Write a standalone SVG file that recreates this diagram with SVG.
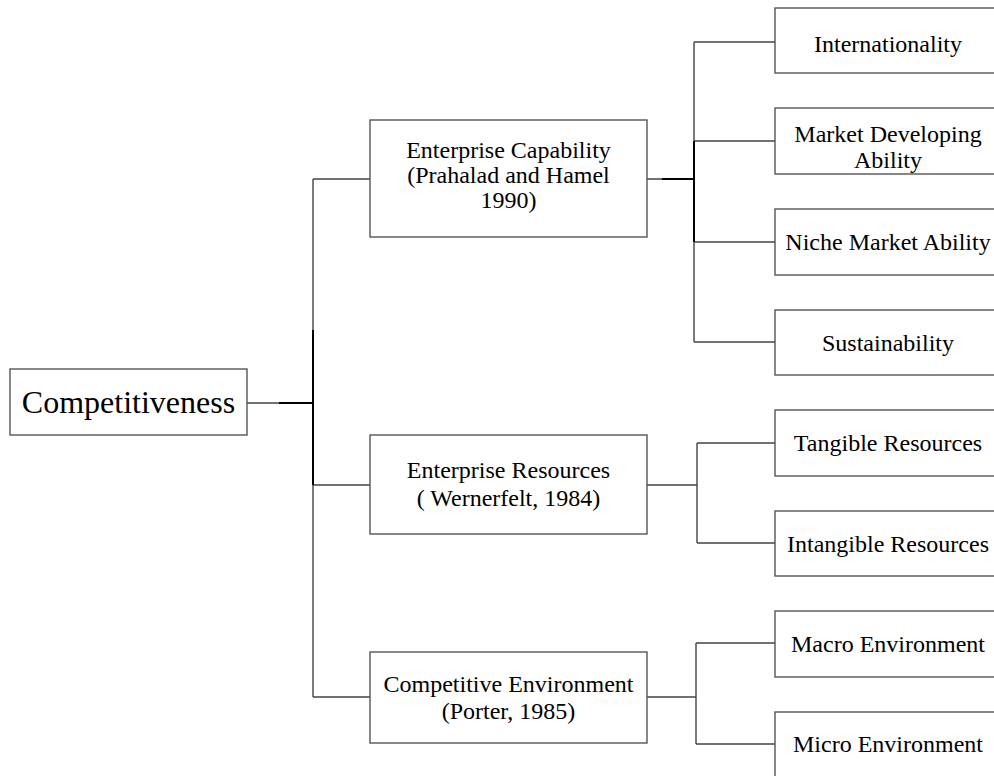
<svg xmlns="http://www.w3.org/2000/svg" width="994" height="776" viewBox="0 0 994 776">
<style>
.box{fill:#fff;stroke:#555;stroke-width:1.4}
.ln{fill:none;stroke:#444;stroke-width:1.4}
.thick{fill:none;stroke:#000;stroke-width:2}
text{font-family:"Liberation Serif","Times New Roman",serif;font-size:24px;fill:#000;text-anchor:middle}
.big{font-size:32px}
</style>
<rect width="994" height="776" fill="#fff"/>
<g id="connectors">
<path class="ln" d="M247 403 H313 M313 179 V697 M313 179 H370 M313 485 H370 M313 697 H370"/>
<path class="ln" d="M647 179 H694 M694 42 V342 M694 42 H775 M694 141 H775 M694 242 H775 M694 342 H775"/>
<path class="ln" d="M647 485 H697 M697 443 V543 M697 443 H775 M697 543 H775"/>
<path class="ln" d="M647 697 H696 M696 643 V744 M696 643 H775 M696 744 H775"/>
<path class="thick" d="M279 403 H313 M313 330 V485 M662 179 H694 M694 141 V242"/>
</g>
<g id="competitiveness"><rect class="box" x="10" y="369" width="237" height="66"/><text class="big" x="128.5" y="413">Competitiveness</text></g>
<g id="enterprise-capability"><rect class="box" x="370" y="120" width="277" height="117"/><text x="508.5" y="158">Enterprise Capability</text><text x="508.5" y="183">(Prahalad and Hamel</text><text x="508.5" y="208">1990)</text></g>
<g id="enterprise-resources"><rect class="box" x="370" y="435" width="277" height="99"/><text x="508.5" y="478">Enterprise Resources</text><text x="508.5" y="506">( Wernerfelt, 1984)</text></g>
<g id="competitive-environment"><rect class="box" x="370" y="652" width="277" height="91"/><text x="508.5" y="692">Competitive Environment</text><text x="508.5" y="719">(Porter, 1985)</text></g>
<g id="internationality"><rect class="box" x="775" y="8" width="226" height="65"/><text x="888" y="52">Internationality</text></g>
<g id="market-developing"><rect class="box" x="775" y="108" width="226" height="66"/><text x="888" y="142">Market Developing</text><text x="888" y="168">Ability</text></g>
<g id="niche-market"><rect class="box" x="775" y="209" width="226" height="66"/><text x="888" y="250">Niche Market Ability</text></g>
<g id="sustainability"><rect class="box" x="775" y="310" width="226" height="65"/><text x="888" y="351">Sustainability</text></g>
<g id="tangible"><rect class="box" x="775" y="410" width="226" height="66"/><text x="888" y="451">Tangible Resources</text></g>
<g id="intangible"><rect class="box" x="775" y="511" width="226" height="65"/><text x="888" y="552">Intangible Resources</text></g>
<g id="macro"><rect class="box" x="775" y="611" width="226" height="66"/><text x="888" y="652">Macro Environment</text></g>
<g id="micro"><rect class="box" x="775" y="712" width="226" height="70"/><text x="888" y="752">Micro Environment</text></g>
</svg>
